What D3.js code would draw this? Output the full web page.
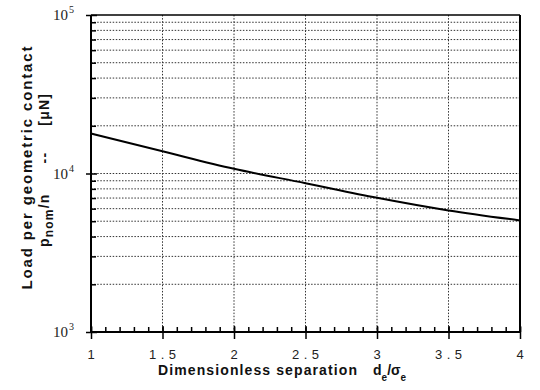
<!DOCTYPE html>
<html>
<head>
<meta charset="utf-8">
<script src="https://cdn.jsdelivr.net/npm/d3@7"></script>
<style>
  html, body { margin: 0; padding: 0; background: #fff; }
  svg { display: block; }
</style>
</head>
<body>
<svg id="chart" width="540" height="390"></svg>
<script>
// ---- data ----
const separation = [1, 1.5, 2, 2.5, 3, 3.5, 4];
const loadPerContact = [17870, 13800, 10700, 8690, 7030, 5850, 5060];
const xTickValues = [1, 1.5, 2, 2.5, 3, 3.5, 4];
const xTickLabels = ["1", "1.5", "2", "2.5", "3", "3.5", "4"];
const yMajorValues = [1e3, 1e4, 1e5];
const yMajorExponents = ["3", "4", "5"];
const yMinorValues = [2e3,3e3,4e3,5e3,6e3,7e3,8e3,9e3,2e4,3e4,4e4,5e4,6e4,7e4,8e4,9e4];
const xMinorValues = d3.range(10, 41).map(d => d / 10);

const svg = d3.select("#chart");
const L = 91, R = 520, T = 15, B = 332;
const x = d3.scaleLinear().domain([1, 4]).range([L, R]);
const y = d3.scaleLog().domain([1e3, 1e5]).range([B, T]);

// gridlines
const grid = svg.append("g").attr("stroke", "#333").attr("stroke-width", 1)
  .attr("stroke-dasharray", "1.5,1.6").attr("fill", "none");
grid.selectAll("line.h").data(yMinorValues.concat([1e4])).join("line")
  .attr("x1", L).attr("x2", R).attr("y1", d => y(d)).attr("y2", d => y(d));
grid.selectAll("line.v").data(xTickValues.slice(1, -1)).join("line")
  .attr("class", "v")
  .attr("x1", d => x(d)).attr("x2", d => x(d)).attr("y1", T).attr("y2", B);

// axes (ticks)
const xMinorAxis = d3.axisBottom(x).tickValues(xMinorValues).tickSize(-5).tickFormat("");
const xMajorDown = d3.axisBottom(x).tickValues(xTickValues).tickSize(7).tickFormat("");
const xMajorUp = d3.axisBottom(x).tickValues(xTickValues).tickSize(-6).tickFormat("");
const yMinorAxis = d3.axisLeft(y).tickValues(yMinorValues).tickSize(-5).tickFormat("");
const yMajorOut = d3.axisLeft(y).tickValues(yMajorValues).tickSize(5).tickFormat("");
const yMajorIn = d3.axisLeft(y).tickValues(yMajorValues).tickSize(-6).tickFormat("");

[xMinorAxis, xMajorDown, xMajorUp].forEach(a => {
  const g = svg.append("g").attr("transform", `translate(0,${B})`).call(a);
  g.select(".domain").remove();
  g.selectAll(".tick line").attr("stroke", "#000").attr("stroke-width", 1.5);
});
[yMinorAxis, yMajorOut, yMajorIn].forEach(a => {
  const g = svg.append("g").attr("transform", `translate(${L},0)`).call(a);
  g.select(".domain").remove();
  g.selectAll(".tick line").attr("stroke", "#000").attr("stroke-width", 1.5);
});

// frame
svg.append("line").attr("x1", L).attr("x2", R).attr("y1", B).attr("y2", B).attr("stroke", "#000").attr("stroke-width", 2);
svg.append("line").attr("x1", L).attr("x2", L).attr("y1", T).attr("y2", B).attr("stroke", "#000").attr("stroke-width", 2);
svg.append("line").attr("x1", L).attr("x2", R).attr("y1", T).attr("y2", T).attr("stroke", "#000").attr("stroke-width", 1.6);
svg.append("line").attr("x1", R).attr("x2", R).attr("y1", T).attr("y2", B).attr("stroke", "#000").attr("stroke-width", 2);

// x tick labels
const ls = 4.5;
svg.append("g").selectAll("text").data(xTickValues).join("text")
  .attr("x", d => x(d) + ls / 2).attr("y", B + 27)
  .attr("text-anchor", "middle")
  .attr("font-family", "Liberation Sans, Arial, sans-serif")
  .attr("font-size", 13).attr("fill", "#222")
  .attr("letter-spacing", ls)
  .text((d, i) => xTickLabels[i]);

// y tick labels 10^n
const yl = svg.append("g");
yMajorValues.forEach((v, i) => {
  yl.append("text")
    .attr("x", 68).attr("y", y(v) + 5)
    .attr("text-anchor", "end")
    .attr("font-family", "Liberation Serif, Times New Roman, serif")
    .attr("font-size", 15).attr("fill", "#222")
    .text("10");
  yl.append("text")
    .attr("x", 69).attr("y", y(v) - 2)
    .attr("font-family", "Liberation Serif, Times New Roman, serif")
    .attr("font-size", 10).attr("fill", "#222")
    .text(yMajorExponents[i]);
});

// curve
const line = d3.line().x((d, i) => x(separation[i])).y(d => y(d)).curve(d3.curveMonotoneX);
svg.append("path").datum(loadPerContact)
  .attr("d", line).attr("fill", "none").attr("stroke", "#000").attr("stroke-width", 2);

// x axis title
const xt = svg.append("text")
  .attr("x", 158).attr("y", 375)
  .attr("font-family", "Liberation Sans, Arial, sans-serif")
  .attr("font-weight", "bold").attr("font-size", 14).attr("fill", "#111");
xt.append("tspan").text("Dimensionless separation").attr("textLength", 199).attr("lengthAdjust", "spacing");
xt.append("tspan").attr("x", 373).text("d");
xt.append("tspan").attr("dy", 6).attr("font-size", 10).text("e");
xt.append("tspan").attr("dy", -6).text("/σ");
xt.append("tspan").attr("dy", 6).attr("font-size", 10).text("e");

// y axis title
svg.append("text")
  .attr("transform", "translate(32,168) rotate(-90)")
  .attr("text-anchor", "middle")
  .attr("font-family", "Liberation Sans, Arial, sans-serif")
  .attr("font-weight", "bold").attr("font-size", 15).attr("fill", "#111")
  .attr("textLength", 243).attr("lengthAdjust", "spacing")
  .text("Load per geometric contact");

const yt2 = svg.append("text")
  .attr("transform", "translate(49,247) rotate(-90)")
  .attr("font-family", "Liberation Sans, Arial, sans-serif")
  .attr("font-weight", "bold").attr("font-size", 14).attr("fill", "#111")
  .attr("letter-spacing", 1.2);
yt2.append("tspan").text("p");
yt2.append("tspan").attr("dy", 4).attr("font-size", 12).text("nom");
yt2.append("tspan").attr("dy", -4).text("/n");
yt2.append("tspan").attr("dx", 30).text("--");
yt2.append("tspan").attr("dx", 26).text("[μN]");
</script>
</body>
</html>
